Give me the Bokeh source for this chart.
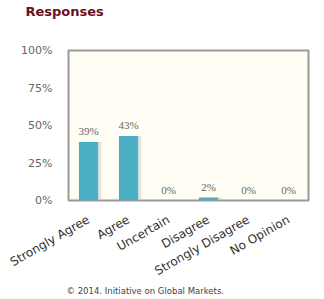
from bokeh.plotting import figure
from bokeh.models import ColumnDataSource, Title, PrintfTickFormatter, FixedTicker
from bokeh.transform import dodge
from bokeh.embed import file_html
from bokeh.resources import INLINE
import math

categories = ["Strongly Agree", "Agree", "Uncertain", "Disagree", "Strongly Disagree", "No Opinion"]
values = [39, 43, 0, 2, 0, 0]
value_labels = ["39%", "43%", "0%", "2%", "0%", "0%"]
y_ticks = [0, 25, 50, 75, 100]

src = ColumnDataSource(dict(cat=categories, val=values, lab=value_labels))

p = figure(width=324, height=299, x_range=categories, y_range=(0, 100),
           output_backend="svg", toolbar_location=None, title=None,
           min_border_left=68, min_border_right=16, min_border_top=50, min_border_bottom=97)
p.background_fill_color = "#fffdf4"
p.border_fill_color = "white"
p.outline_line_color = "#999999"
p.outline_line_width = 2
p.grid.visible = False

p.vbar(x=dodge("cat", 0.08, range=p.x_range), top="val", width=0.48, bottom=0,
       source=src, fill_color="#c4c4c4", fill_alpha=0.45, line_color=None)
p.vbar(x="cat", top="val", width=0.48, bottom=0, source=src,
       fill_color="#4bafc5", line_color=None)
p.text(x="cat", y="val", text="lab", source=src, text_align="center",
       text_baseline="bottom", y_offset=-5, text_font_size="11px",
       text_color="#666666", text_font="DejaVu Sans")

p.yaxis.ticker = FixedTicker(ticks=y_ticks)
p.yaxis.formatter = PrintfTickFormatter(format="%d%%")
for ax in (p.xaxis, p.yaxis):
    ax.axis_line_color = None
    ax.major_tick_line_color = None
    ax.minor_tick_line_color = None
    ax.major_label_text_color = "#666666"
    ax.major_label_text_font = "DejaVu Sans"
    ax.major_label_text_font_size = "11px"
p.yaxis.major_label_standoff = 10
p.xaxis.major_label_orientation = math.pi / 6
p.xaxis.major_label_standoff = 12
p.xaxis.major_label_text_font_size = "12px"
p.xaxis.major_label_text_color = "#333333"

p.add_layout(Title(text=" ", text_font_size="26px", standoff=0), "above")
p.add_layout(Title(text="Responses", align="left", offset=-43, standoff=0,
                   text_font="DejaVu Sans", text_font_style="bold", text_font_size="13px",
                   text_color="#6b0f1f"), "above")
p.add_layout(Title(text="\u00a9 2014. Initiative on Global Markets.", align="left", offset=-2,
                   text_font="DejaVu Sans", text_font_style="normal", text_font_size="8.5px",
                   text_color="#444444", standoff=-16), "below")
p.add_layout(Title(text=" ", text_font_size="9px", standoff=0), "below")

open("out.html", "w").write(file_html(p, INLINE))
